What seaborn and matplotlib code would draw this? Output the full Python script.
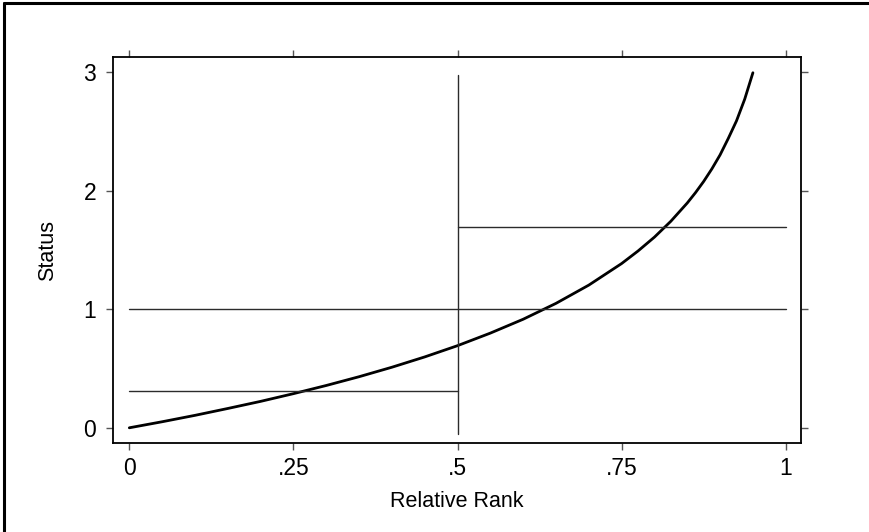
import matplotlib
matplotlib.use("Agg")
import matplotlib.pyplot as plt
from matplotlib.lines import Line2D
import seaborn as sns
import pandas as pd

# Status curve as a function of relative rank
rank = [0.0, 0.05, 0.10, 0.15, 0.20, 0.25, 0.30, 0.35, 0.40, 0.45, 0.50,
        0.55, 0.60, 0.65, 0.70, 0.75, 0.775, 0.80, 0.825, 0.85, 0.8625,
        0.875, 0.8875, 0.90, 0.9125, 0.925, 0.9375, 0.95]
status = [0.0, 0.051, 0.105, 0.163, 0.223, 0.288, 0.357, 0.431, 0.511, 0.598, 0.693,
          0.799, 0.916, 1.050, 1.204, 1.386, 1.492, 1.609, 1.743, 1.897, 1.984,
          2.079, 2.185, 2.303, 2.442, 2.590, 2.773, 2.996]

# Reference lines: overall mean, lower-half mean, upper-half mean, median cut
overall_mean = 1.0
lower_mean = 0.307
upper_mean = 1.693
cut_rank = 0.5
cut_span = [-0.05, 2.98]

x_ticks = [0, 0.25, 0.5, 0.75, 1]
x_ticklabels = ["0", ".25", ".5", ".75", "1"]
y_ticks = [0, 1, 2, 3]
y_ticklabels = ["0", "1", "2", "3"]

sns.set_theme(style="white")
plt.rcParams["font.family"] = ["Liberation Sans", "DejaVu Sans"]
plt.rcParams["text.color"] = "black"
plt.rcParams["axes.labelcolor"] = "black"

fig = plt.figure(figsize=(8.69, 5.32), dpi=100)
ax = fig.add_axes([0.1297, 0.1678, 0.7920, 0.7242])

curve = pd.DataFrame({"rank": rank, "status": status})
sns.lineplot(data=curve, x="rank", y="status", ax=ax, color="black",
             linewidth=2.0, sort=True, estimator=None)

seg_color = "#2b2b2b"
segs = [
    ([0, 1], [overall_mean, overall_mean]),
    ([0, cut_rank], [lower_mean, lower_mean]),
    ([cut_rank, 1], [upper_mean, upper_mean]),
    ([cut_rank, cut_rank], cut_span),
]
for xs, ys in segs:
    sns.lineplot(x=xs, y=ys, ax=ax, color=seg_color, linewidth=1.0,
                 sort=False, estimator=None)

ax.set_xlim(-0.0253, 1.0232)
ax.set_ylim(-0.126, 3.125)
ax.set_xticks(x_ticks)
ax.set_xticklabels(x_ticklabels)
ax.set_yticks(y_ticks)
ax.set_yticklabels(y_ticklabels)
ax.tick_params(axis="both", which="both", direction="out", length=5,
               width=1.0, color="#555555", labelsize=16.5, labelcolor="black",
               top=True, right=True, labeltop=False, labelright=False,
               bottom=True, left=True)
ax.tick_params(axis="x", pad=5)
ax.tick_params(axis="y", pad=7)
for sp in ax.spines.values():
    sp.set_visible(True)
    sp.set_color("black")
    sp.set_linewidth(1.3)

ax.set_xlabel("Relative Rank", fontsize=15.5, labelpad=8, color="black")
ax.set_ylabel("Status", fontsize=15.5, labelpad=18, color="black")

# Outer frame (left and top edges)
fig.add_artist(Line2D([0.0048, 0.0048], [0, 0.9945], transform=fig.transFigure,
                      color="black", linewidth=2.2))
fig.add_artist(Line2D([0.0048, 1.0], [0.9945, 0.9945], transform=fig.transFigure,
                      color="black", linewidth=2.2))

fig.savefig("out.png", dpi=100)
